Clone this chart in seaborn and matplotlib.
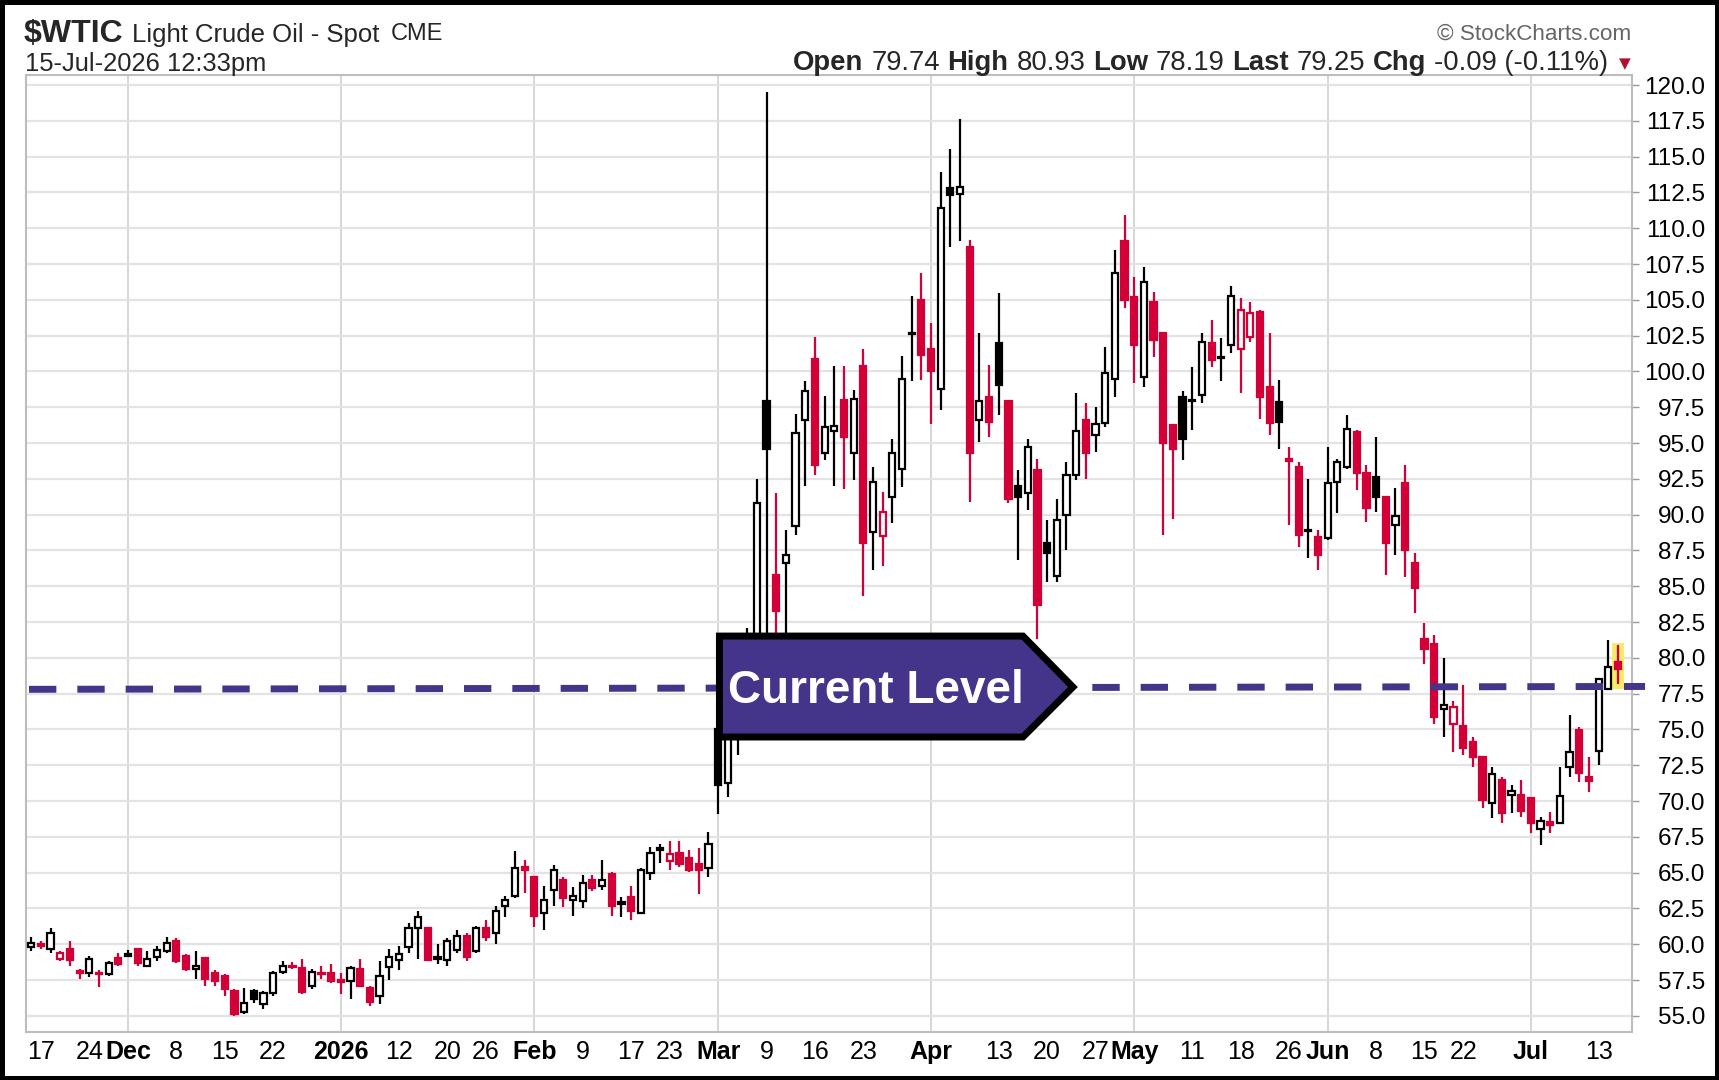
import numpy as np
import pandas as pd
import matplotlib
matplotlib.use("Agg")
import matplotlib.pyplot as plt
import seaborn as sns
from matplotlib import font_manager
from matplotlib.patches import Rectangle, Polygon

# trading calendar for $WTIC (US holidays skipped)
holidays = ['2025-11-27', '2025-12-25', '2026-01-01', '2026-01-19', '2026-02-16',
            '2026-04-03', '2026-05-25', '2026-06-19', '2026-07-03']
dates = pd.bdate_range('2025-11-14', '2026-07-15', freq='C', holidays=holidays)

# daily OHLC (one line per month)
open_ = [
    59.8, 60.0, 59.7, 58.95, 59.7, 58.1, 58.0, 58.0, 57.9, 59.05,
    59.2, 59.65, 58.5, 59.1, 59.55, 60.2, 59.15, 58.3, 59.05, 58.0, 57.8, 56.75, 55.25, 56.75, 55.8, 56.6, 58.05, 58.5, 58.35, 57.1, 58.0, 58.0,
    57.5, 57.4, 58.25, 56.95, 56.35, 58.4, 58.9, 59.8, 61.1, 61.1, 59.0, 58.9, 59.6, 60.6, 59.55, 61.1, 60.75, 62.7, 63.4, 65.4,
    64.7, 62.2, 63.8, 64.5, 63.1, 63.0, 64.5, 64.1, 64.9, 62.85, 63.3, 62.2, 65.0, 66.6, 65.8, 66.35, 66.0, 65.6, 65.3,
    75.0, 71.25, 75.5, 77.0, 80.0, 97.9, 85.8, 86.6, 89.2, 96.6, 100.9, 94.3, 95.85, 98.0, 94.3, 100.4, 88.8, 88.5, 91.25, 93.2, 102.6, 105.0,
    101.6, 98.8, 112.8, 112.4, 108.7, 96.6, 98.2, 102.0, 97.9, 92.0, 91.5, 93.1, 88.0, 85.7, 90.0, 92.8, 96.6, 95.55, 96.4, 99.5, 109.1,
    105.2, 99.6, 104.85, 102.65, 96.25, 98.2, 97.95, 98.35, 102.0, 100.95, 101.85, 101.6, 102.42, 104.17, 98.93, 97.88, 93.85, 93.3, 88.85, 88.45,
    88.34, 92.3, 93.35, 95.8, 92.88, 92.65, 91.25, 89.27, 92.18, 86.6, 81.3, 81.0, 76.4, 75.4, 75.25, 74.15, 73.1, 69.84, 71.47, 70.42, 70.4,
    70.2, 68.03, 68.5, 68.49, 72.4, 74.96, 71.7, 73.5, 77.8, 79.74,
]
high = [
    60.5, 60.2, 61.1, 59.5, 60.2, 58.25, 59.2, 58.2, 58.85, 59.4,
    59.6, 59.75, 59.5, 59.9, 60.5, 60.4, 59.3, 59.5, 59.1, 58.2, 57.9, 56.9, 56.95, 56.9, 56.75, 58.15, 58.8, 58.75, 59.0, 58.25, 58.45, 58.6,
    58.0, 58.5, 59.0, 57.1, 58.8, 59.7, 59.9, 61.5, 62.3, 61.1, 60.05, 60.4, 61.0, 60.75, 61.3, 61.7, 62.7, 63.4, 66.5, 65.9,
    64.75, 64.1, 65.5, 64.7, 64.0, 64.8, 64.8, 65.9, 65.05, 63.3, 64.1, 65.3, 66.8, 67.0, 67.2, 67.2, 66.6, 66.7, 67.85,
    75.2, 76.5, 78.0, 82.05, 92.5, 119.5, 91.5, 88.9, 97.0, 99.3, 102.4, 98.3, 100.4, 100.4, 98.7, 101.6, 93.3, 91.6, 95.3, 101.1, 105.3, 106.85,
    103.35, 113.9, 115.5, 117.6, 109.2, 102.65, 100.45, 105.45, 98.0, 93.1, 95.3, 93.9, 89.6, 91.1, 93.7, 98.5, 97.8, 97.5, 101.7, 108.5, 110.9,
    106.6, 107.3, 105.55, 102.7, 96.3, 98.6, 100.3, 102.65, 103.6, 102.3, 106.0, 105.1, 104.87, 104.28, 102.65, 99.4, 94.75, 93.7, 92.5, 88.9,
    94.74, 93.9, 96.95, 95.9, 93.46, 95.44, 91.3, 91.83, 93.46, 87.3, 82.4, 81.6, 80.0, 76.95, 78.1, 74.5, 73.15, 72.4, 71.7, 71.12, 71.5,
    70.3, 68.9, 69.25, 72.4, 76.0, 75.2, 73.1, 78.6, 81.25, 80.93,
]
low = [
    59.5, 59.7, 59.4, 58.8, 58.5, 57.6, 57.7, 57.0, 57.8, 58.5,
    59.1, 58.5, 58.4, 58.85, 59.4, 58.7, 58.1, 57.6, 57.1, 57.1, 56.4, 55.0, 55.1, 55.9, 55.5, 56.4, 57.9, 58.25, 56.5, 56.86, 57.55, 57.3,
    56.5, 56.2, 57.0, 55.7, 55.8, 57.5, 58.2, 59.4, 59.0, 58.8, 58.6, 58.5, 59.4, 58.8, 59.4, 60.2, 60.05, 61.9, 63.2, 63.6,
    61.2, 61.0, 62.7, 62.6, 62.0, 62.5, 63.7, 63.8, 62.0, 61.9, 61.7, 62.1, 64.5, 65.7, 65.2, 65.4, 65.05, 63.5, 64.7,
    69.1, 70.3, 73.2, 76.0, 79.0, 80.0, 80.5, 81.0, 88.6, 92.0, 92.8, 93.8, 92.0, 91.8, 92.4, 84.3, 86.1, 86.4, 89.4, 91.9, 99.3, 99.4,
    96.3, 97.3, 108.7, 109.1, 90.9, 95.1, 95.45, 96.95, 90.8, 86.8, 90.3, 81.3, 85.3, 85.3, 87.5, 92.4, 92.5, 94.4, 96.1, 98.2, 104.4,
    99.2, 98.9, 101.0, 88.6, 89.7, 93.8, 95.9, 97.8, 100.3, 99.3, 101.26, 98.5, 102.07, 96.7, 95.55, 94.6, 89.3, 87.75, 86.95, 86.1,
    88.2, 90.1, 93.2, 91.7, 89.5, 90.2, 85.8, 87.17, 85.66, 83.1, 79.6, 75.4, 74.5, 73.45, 73.2, 72.4, 69.5, 68.8, 68.45, 69.14, 68.9,
    67.75, 66.93, 67.75, 68.4, 71.7, 71.35, 70.65, 72.5, 77.75, 78.19,
]
close = [
    60.1, 59.9, 60.8, 59.4, 58.9, 58.0, 59.0, 57.9, 58.7, 58.6,
    59.3, 58.7, 59.0, 59.6, 60.1, 58.85, 58.25, 58.45, 57.55, 57.45, 56.9, 55.1, 55.9, 56.15, 56.6, 58.0, 58.5, 58.4, 56.65, 58.05, 57.9, 57.45,
    57.4, 58.35, 57.1, 55.95, 57.8, 59.1, 59.35, 61.1, 61.9, 58.9, 59.1, 60.25, 60.6, 59.1, 61.1, 60.5, 62.3, 63.1, 65.3, 65.2,
    62.0, 63.1, 65.2, 63.2, 63.4, 64.25, 63.9, 64.5, 62.7, 62.9, 62.3, 65.2, 66.35, 66.7, 66.3, 65.6, 65.2, 65.15, 67.0,
    71.1, 75.8, 77.0, 80.5, 90.8, 94.6, 83.3, 87.2, 95.7, 98.6, 93.5, 96.1, 96.2, 95.4, 98.1, 88.0, 92.3, 90.2, 94.3, 99.5, 102.7, 101.15,
    100.0, 111.4, 112.3, 112.9, 94.3, 97.9, 96.5, 99.05, 91.1, 91.25, 94.7, 83.7, 87.3, 89.6, 92.8, 95.85, 94.3, 96.35, 99.9, 106.85, 105.0,
    101.85, 106.25, 102.2, 95.0, 94.6, 95.3, 98.0, 102.05, 100.8, 101.0, 105.3, 104.28, 104.05, 98.23, 96.37, 96.5, 93.8, 88.6, 88.92, 87.17,
    92.18, 93.65, 96.0, 92.9, 90.43, 91.25, 88.0, 89.92, 87.52, 84.85, 80.6, 75.9, 76.7, 76.55, 73.7, 73.1, 70.07, 71.9, 69.14, 70.73, 69.3,
    68.45, 68.63, 68.35, 70.35, 73.45, 71.93, 71.4, 78.5, 79.34, 79.25,
]

# x-axis labels
tick_dates = ['2025-11-17', '2025-11-24', '2025-12-01', '2025-12-08', '2025-12-15', '2025-12-22',
              '2026-01-02', '2026-01-12', '2026-01-20', '2026-01-26', '2026-02-02', '2026-02-09',
              '2026-02-17', '2026-02-23', '2026-03-02', '2026-03-09', '2026-03-16', '2026-03-23',
              '2026-04-01', '2026-04-13', '2026-04-20', '2026-04-27', '2026-05-01', '2026-05-11',
              '2026-05-18', '2026-05-26', '2026-06-01', '2026-06-08', '2026-06-15', '2026-06-22',
              '2026-07-01', '2026-07-13']
tick_text = ['17', '24', 'Dec', '8', '15', '22', '2026', '12', '20', '26', 'Feb', '9', '17', '23',
             'Mar', '9', '16', '23', 'Apr', '13', '20', '27', 'May', '11', '18', '26', 'Jun', '8',
             '15', '22', 'Jul', '13']

level_start, level_end = 77.8, 78.0   # "Current Level" line

RED = '#D20036'
PURPLE = '#45358A'
W, H = 1719, 1080

sns.set_theme(style='white')
plt.rcParams['font.family'] = ['Liberation Sans', 'DejaVu Sans']
plt.rcParams['lines.scale_dashes'] = False

# condensed face for the title line if it is installed
installed = {f.name for f in font_manager.fontManager.ttflist}
if 'Liberation Sans Narrow' in installed:
    title_font, title_scale = 'Liberation Sans Narrow', 1 / 0.82
else:
    title_font, title_scale = 'Liberation Sans', 1.0

fig = plt.figure(figsize=(W / 100, H / 100), dpi=100)
ax = fig.add_axes([26 / W, 1 - 1032 / H, (1632 - 26) / W, (1032 - 75) / H])

o, h, l, c = map(np.array, (open_, high, low, close))
x = np.arange(len(dates))
prev = np.r_[c[0] - 1, c[:-1]]
col = np.where(c >= prev, 'black', RED)
face = np.where(c >= o, 'white', col)
body = np.maximum(np.abs(c - o), 0.12)
bottom = (o + c) / 2 - body / 2

# highlight behind the latest bar
ax.add_patch(Rectangle((x[-1] - 0.6, l[-1] - 0.35), 1.2, h[-1] - l[-1] + 0.45,
                       facecolor='#F8EA6A', edgecolor='none', zorder=1.5))

ax.vlines(x, l, h, colors=col, lw=1.6, zorder=2)
ax.bar(x, body, bottom=bottom, width=0.64, color=face, edgecolor=col, linewidth=1.6, zorder=3)

# grid
ax.set_yticks(np.arange(55, 120.1, 2.5))
ax.set_yticklabels([f'{v:.1f}' for v in np.arange(55, 120.1, 2.5)])
ax.grid(axis='y', color='#E3E3E3', lw=1.6, zorder=0)
ax.grid(axis='x', visible=False)
tick_pos = [dates.get_loc(pd.Timestamp(d)) for d in tick_dates]
for p, t in zip(tick_pos, tick_text):
    if not t.isdigit() or t == '2026':
        ax.axvline(p, color='#D6D6D6', lw=1.4, zorder=0)

ax.set_xlim(-0.54, 165.45)
ax.set_ylim(53.87, 120.7)

ax.yaxis.tick_right()
ax.tick_params(axis='y', direction='out', length=5, width=1, color='#999999',
               pad=47.5, labelsize=17.5, labelcolor='black')
plt.setp(ax.get_yticklabels(), ha='right')

ax.set_xticks(tick_pos)
ax.set_xticklabels(tick_text)
ax.set_xticks(x, minor=True)
ax.tick_params(axis='x', which='major', direction='out', length=4.5, width=1, color='#999999',
               pad=1, labelsize=18, labelcolor='black')
ax.tick_params(axis='x', which='minor', direction='out', length=2.5, width=0.8, color='#AAAAAA')
for lab in ax.get_xticklabels():
    if not lab.get_text().isdigit() or lab.get_text() == '2026':
        lab.set_fontweight('bold')

for s in ax.spines.values():
    s.set_color('#BDBDBD')
    s.set_linewidth(1.5)

# current level annotation
ax.plot([-0.23, 166.8], [level_start, level_end], color=PURPLE, lw=5.0, dashes=(19.7, 15.1),
        solid_capstyle='butt', dash_capstyle='butt', zorder=4, clip_on=False)
box = Polygon([(71.13, 81.52), (102.5, 81.52), (107.67, 77.96), (102.5, 74.47), (71.13, 74.47)],
              closed=True, facecolor=PURPLE, edgecolor='black', lw=5, joinstyle='miter', zorder=5)
ax.add_patch(box)
ax.text(72.0, 76.82, 'Current Level', color='white', fontsize=33, fontweight='bold',
        ha='left', va='baseline', zorder=6)

# header
def ft(px, py, s, **kw):
    return fig.text(px / W, 1 - py / H, s, va='baseline', **kw)

ft(24, 41.7, '$WTIC', fontsize=23 * title_scale, fontweight='bold', family=title_font)
ft(131.5, 41.7, 'Light Crude Oil - Spot', fontsize=18.5 * title_scale, family=title_font)
ft(391, 40, 'CME', fontsize=17)
ft(25, 70.5, '15-Jul-2026 12:33pm', fontsize=18.4)
ft(1631, 39.5, '\u00a9 StockCharts.com', fontsize=16.2, color='#666666', ha='right')
ft(1631, 68, '\u25bc', fontsize=11, color='#B0102E', ha='right', family='DejaVu Sans')

pieces = [('Open', 'bold'), ('79.74', 'normal'), ('High', 'bold'), ('80.93', 'normal'),
          ('Low', 'bold'), ('78.19', 'normal'), ('Last', 'bold'), ('79.25', 'normal'),
          ('Chg', 'bold'), ('-0.09 (-0.11%)', 'normal')]
prev_t = ft(1608, 70, pieces[-1][0], fontsize=19.8, fontweight=pieces[-1][1], ha='right')
for txt, wt in reversed(pieces[:-1]):
    prev_t = ax.annotate(txt, xy=(0, 0), xycoords=prev_t, xytext=(-7.7, 0),
                         textcoords='offset pixels', ha='right', va='bottom',
                         fontsize=19.8, fontweight=wt, annotation_clip=False)

fig.add_artist(Rectangle((0, 0), 1, 1, transform=fig.transFigure, fill=False,
                         edgecolor='black', lw=6.5))

fig.savefig('out.png', dpi=100)
